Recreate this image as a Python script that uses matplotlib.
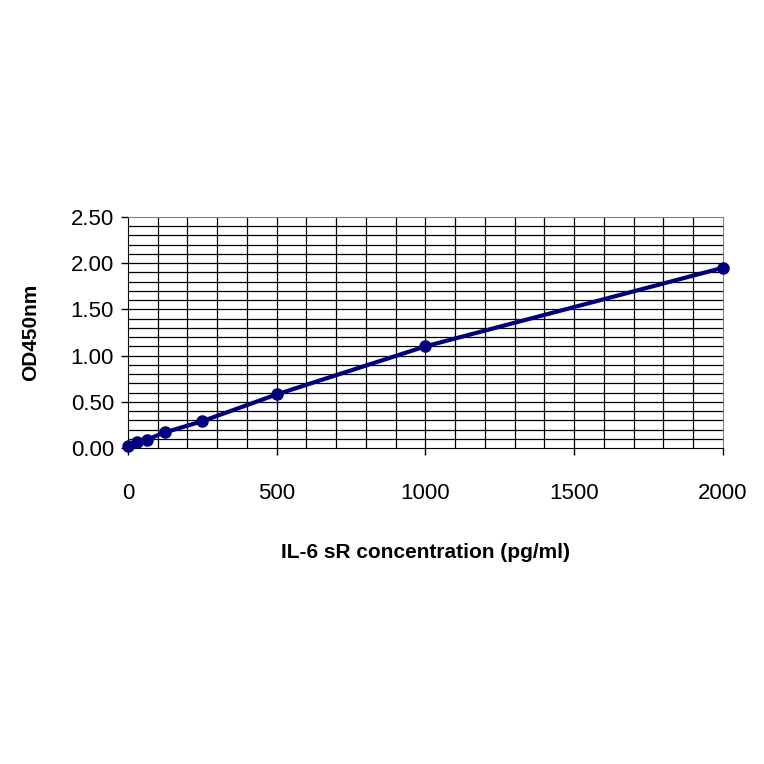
import matplotlib
matplotlib.use("Agg")
import matplotlib.pyplot as plt
import numpy as np

conc = [0, 31.25, 62.5, 125, 250, 500, 1000, 2000]
od = [0.02, 0.06, 0.09, 0.17, 0.29, 0.58, 1.10, 1.95]
xticks = [0, 500, 1000, 1500, 2000]
yticks = [0.0, 0.5, 1.0, 1.5, 2.0, 2.5]

fig = plt.figure(figsize=(7.64, 7.64), dpi=100)
ax = fig.add_axes([0.1675, 0.4136, 0.7785, 0.3024])
ax.set_xlim(0, 2000)
ax.set_ylim(0, 2.5)
for v in np.arange(100, 2000, 100):
    ax.axvline(v, color='black', lw=0.9, zorder=1)
for v in np.arange(0.1, 2.5, 0.1):
    ax.axhline(v, color='black', lw=0.9, zorder=1)
ax.plot(conc, od, color='#00007f', lw=3, marker='o', ms=8, zorder=3, clip_on=False)
ax.set_xticks(xticks)
ax.set_xticklabels([str(x) for x in xticks], fontsize=16, family='Liberation Sans')
ax.set_yticks(yticks)
ax.set_yticklabels([f"{y:.2f}" for y in yticks], fontsize=16, family='Liberation Sans')
ax.tick_params(axis='x', direction='out', length=5, width=1, pad=20)
ax.tick_params(axis='y', direction='out', length=5, width=1, pad=5)
for s in ['top', 'right']:
    ax.spines[s].set_color('gray')
ax.set_xlabel('IL-6 sR concentration (pg/ml)', fontsize=15, fontweight='bold', family='Liberation Sans', labelpad=28)
ax.set_ylabel('OD450nm', fontsize=15, fontweight='bold', family='Liberation Sans', labelpad=22)
fig.savefig('out.png', dpi=100)
